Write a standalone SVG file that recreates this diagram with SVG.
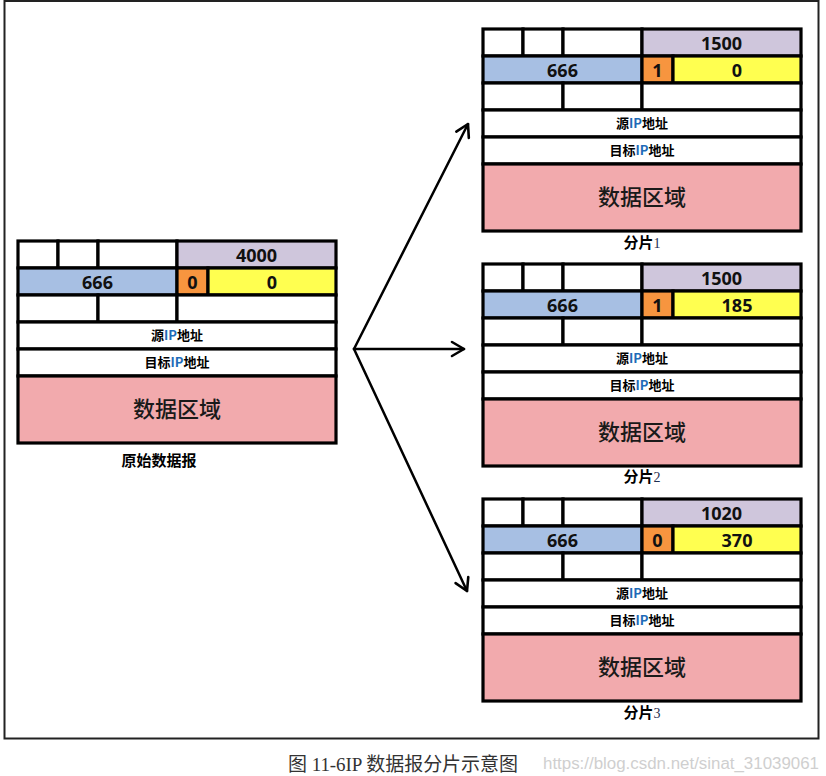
<svg xmlns="http://www.w3.org/2000/svg" width="826" height="776" viewBox="0 0 826 776">
<style>
.c{stroke:#000;stroke-width:3.2}
.w{fill:#fff}
.lav{fill:#cfc6dc}
.blu{fill:#a7bfe3}
.org{fill:#f7953f}
.yel{fill:#ffff50}
.pnk{fill:#f2aaad}
.num{font-family:"Open Sans","Liberation Sans",sans-serif;font-size:18px;font-weight:700;fill:#111;text-anchor:middle}
.addr{font-family:"Noto Sans CJK SC","Liberation Sans",sans-serif;font-size:13px;font-weight:700;fill:#000;text-anchor:middle}
.ip{fill:#1e6bb8}
.data{font-family:"Liberation Serif","Noto Sans CJK SC",serif;font-size:22px;font-weight:500;fill:#1a1a1a;text-anchor:middle}
.lbl{font-family:"Noto Sans CJK SC",sans-serif;font-size:15px;font-weight:700;fill:#000;text-anchor:middle}
.dig{font-family:"Liberation Serif",serif;font-size:14px;font-weight:400;fill:#1f2d50}
.conn{fill:none;stroke:#000;stroke-width:2.5;stroke-linecap:round}
</style>
<defs>
<marker id="ah" markerUnits="userSpaceOnUse" markerWidth="20" markerHeight="20" refX="14" refY="8" orient="auto" viewBox="0 0 20 16">
<path d="M2,1 L14,8 L2,15" fill="none" stroke="#000" stroke-width="2.6" stroke-linecap="round" stroke-linejoin="round"/>
</marker>
<g id="hdr">
<rect class="c w" x="0" y="0" width="40" height="27"/>
<rect class="c w" x="40" y="0" width="40" height="27"/>
<rect class="c w" x="80" y="0" width="79" height="27"/>
<rect class="c lav" x="159" y="0" width="159" height="27"/>
<rect class="c blu" x="0" y="27" width="159" height="27"/>
<rect class="c org" x="159" y="27" width="31" height="27"/>
<rect class="c yel" x="190" y="27" width="128" height="27"/>
<rect class="c w" x="0" y="54" width="80" height="27"/>
<rect class="c w" x="80" y="54" width="79" height="27"/>
<rect class="c w" x="159" y="54" width="159" height="27"/>
<rect class="c w" x="0" y="81" width="318" height="27"/>
<rect class="c w" x="0" y="108" width="318" height="27"/>
<rect class="c pnk" x="0" y="135" width="318" height="67"/>
<text class="addr" x="159" y="99">源<tspan class="ip">IP</tspan>地址</text>
<text class="addr" x="159" y="126">目标<tspan class="ip">IP</tspan>地址</text>
<text class="data" x="159" y="176">数据区域</text>
<text class="num" x="79.5" y="47.5">666</text>
</g>
</defs>
<rect x="4.5" y="1" width="814" height="737.5" fill="#fff" stroke="#222" stroke-width="2"/>

<g id="original" transform="translate(18,241)">
<use href="#hdr"/>
<text class="num" x="238.5" y="20.5">4000</text>
<text class="num" x="174.5" y="47.5">0</text>
<text class="num" x="254" y="47.5">0</text>
<text class="lbl" x="141" y="225">原始数据报</text>
</g>

<g id="frag1" transform="translate(483,29)">
<use href="#hdr"/>
<text class="num" x="238.5" y="20.5">1500</text>
<text class="num" x="174.5" y="47.5">1</text>
<text class="num" x="254" y="47.5">0</text>
<text class="lbl" x="159" y="219">分片<tspan class="dig">1</tspan></text>
</g>

<g id="frag2" transform="translate(483,264)">
<use href="#hdr"/>
<text class="num" x="238.5" y="20.5">1500</text>
<text class="num" x="174.5" y="47.5">1</text>
<text class="num" x="254" y="47.5">185</text>
<text class="lbl" x="159" y="218">分片<tspan class="dig">2</tspan></text>
</g>

<g id="frag3" transform="translate(483,499)">
<use href="#hdr"/>
<text class="num" x="238.5" y="20.5">1020</text>
<text class="num" x="174.5" y="47.5">0</text>
<text class="num" x="254" y="47.5">370</text>
<text class="lbl" x="159" y="219">分片<tspan class="dig">3</tspan></text>
</g>

<g id="connectors">
<path class="conn" d="M354,349 L468,124" marker-end="url(#ah)"/>
<path class="conn" d="M354,349 L464,349" marker-end="url(#ah)"/>
<path class="conn" d="M354,349 L467,591" marker-end="url(#ah)"/>
</g>

<g id="caption">
<text x="288" y="771" font-family="Liberation Serif,Noto Sans CJK SC,serif" font-size="19" fill="#333" textLength="230" lengthAdjust="spacing">图 11-6IP 数据报分片示意图</text>
<text x="543" y="769" font-family="Liberation Sans,sans-serif" font-size="16" fill="#cfcfcf" textLength="276" lengthAdjust="spacingAndGlyphs">https://blog.csdn.net/sinat_31039061</text>
</g>
</svg>
